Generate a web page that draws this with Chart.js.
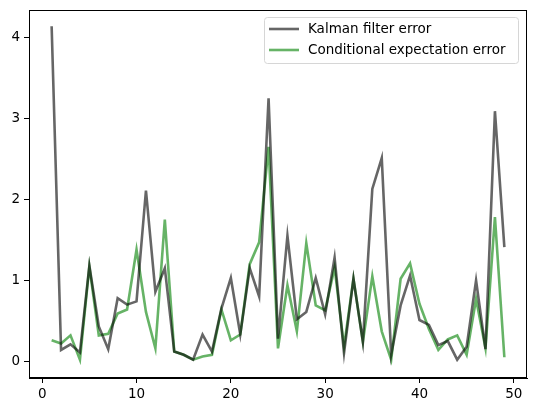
<!DOCTYPE html>
<html lang="en">
<head>
  <meta charset="UTF-8">
  <title>Kalman vs conditional expectation error</title>
  <script src="https://cdn.jsdelivr.net/npm/chart.js"></script>
  <style>
    html, body { margin: 0; padding: 0; background: #fff; }
    #wrap { width: 534px; height: 413px; }
  </style>
</head>
<body>
  <div id="wrap"><canvas id="errChart" width="534" height="413"></canvas></div>

  <script>
    // time steps 1..49
    const steps = [1,2,3,4,5,6,7,8,9,10,11,12,13,14,15,16,17,18,19,20,21,22,23,24,25,
                   26,27,28,29,30,31,32,33,34,35,36,37,38,39,40,41,42,43,44,45,46,47,48,49];
    const kalmanErr = [4.14,0.14,0.21,0.11,1.18,0.43,0.15,0.78,0.70,0.74,2.11,0.86,1.15,0.12,0.08,0.02,0.33,0.12,0.65,1.03,
                       0.33,1.15,0.80,3.25,0.28,1.55,0.52,0.61,1.03,0.58,1.28,0.10,1.02,0.24,2.13,2.51,0.08,0.69,1.06,0.51,
                       0.45,0.20,0.25,0.02,0.18,1.00,0.15,3.09,1.41];
    const condErr = [0.26,0.22,0.32,0.02,1.17,0.32,0.34,0.59,0.64,1.38,0.61,0.16,1.75,0.12,0.08,0.02,0.06,0.08,0.64,0.26,
                     0.33,1.20,1.47,2.65,0.16,0.94,0.37,1.46,0.69,0.63,1.16,0.18,1.02,0.24,1.05,0.37,0.02,1.02,1.21,0.71,
                     0.40,0.14,0.27,0.32,0.08,0.77,0.16,1.78,0.05];
    const seriesNames = ['Kalman filter error', 'Conditional expectation error'];
    const xTicks = [0, 10, 20, 30, 40, 50];
    const yTicks = [0, 1, 2, 3, 4];

    const FONT = 'DejaVu Sans';
    const kalmanColor = 'rgba(0,0,0,0.6)';
    const condColor = 'rgba(0,128,0,0.6)';

    // top/right spines + legend box, matplotlib style
    const frameAndLegend = {
      id: 'frameAndLegend',
      afterDraw(chart) {
        const { ctx, chartArea: a } = chart;
        ctx.save();
        ctx.strokeStyle = '#000';
        ctx.lineWidth = 1;
        ctx.strokeRect(Math.round(a.left) + 0.5, Math.round(a.top) + 0.5,
                       Math.round(a.right - a.left) - 1, Math.round(a.bottom - a.top) - 1);

        // legend
        const bx = 264, by = 17, bw = 254, bh = 46;
        ctx.fillStyle = 'rgba(255,255,255,0.8)';
        ctx.strokeStyle = '#d6d6d6';
        ctx.beginPath();
        ctx.roundRect(bx + 0.5, by + 0.5, bw, bh, 3);
        ctx.fill();
        ctx.stroke();

        ctx.font = '13.5px "' + FONT + '"';
        ctx.textBaseline = 'middle';
        chart.data.datasets.forEach((ds, i) => {
          const y = 29 + i * 21;
          ctx.strokeStyle = ds.borderColor;
          ctx.lineWidth = 2.6;
          ctx.beginPath();
          ctx.moveTo(269, y);
          ctx.lineTo(299, y);
          ctx.stroke();
          ctx.fillStyle = '#000';
          ctx.fillText(ds.label, 308, y);
        });
        ctx.restore();
      }
    };

    new Chart(document.getElementById('errChart'), {
      type: 'line',
      data: {
        datasets: [
          { label: seriesNames[0], data: steps.map((s, i) => ({ x: s, y: kalmanErr[i] })),
            borderColor: kalmanColor, borderWidth: 2.6, pointRadius: 0, tension: 0 },
          { label: seriesNames[1], data: steps.map((s, i) => ({ x: s, y: condErr[i] })),
            borderColor: condColor, borderWidth: 2.6, pointRadius: 0, tension: 0 }
        ]
      },
      options: {
        responsive: false,
        animation: false,
        layout: { padding: { top: 10, right: 7, left: 0, bottom: 0 } },
        plugins: { legend: { display: false }, tooltip: { enabled: false } },
        scales: {
          x: {
            type: 'linear',
            min: -1.4, max: 51.4,
            afterFit: s => { s.height = 35; s.paddingLeft = 0; s.paddingRight = 0; },
            afterBuildTicks: s => { s.ticks = xTicks.map(v => ({ value: v })); },
            grid: { drawOnChartArea: false, drawTicks: true, tickLength: 5, color: '#000' },
            border: { display: true, color: '#000', width: 1 },
            ticks: { color: '#000', padding: 3, maxRotation: 0, font: { family: FONT, size: 13.5 } }
          },
          y: {
            type: 'linear',
            min: -0.2065, max: 4.34,
            afterFit: s => { s.width = 29; s.paddingTop = 0; s.paddingBottom = 0; },
            afterBuildTicks: s => { s.ticks = yTicks.map(v => ({ value: v })); },
            grid: { drawOnChartArea: false, drawTicks: true, tickLength: 5, color: '#000' },
            border: { display: true, color: '#000', width: 1 },
            ticks: { color: '#000', padding: 4, font: { family: FONT, size: 13.5 } }
          }
        }
      },
      plugins: [frameAndLegend]
    });
  </script>
</body>
</html>
